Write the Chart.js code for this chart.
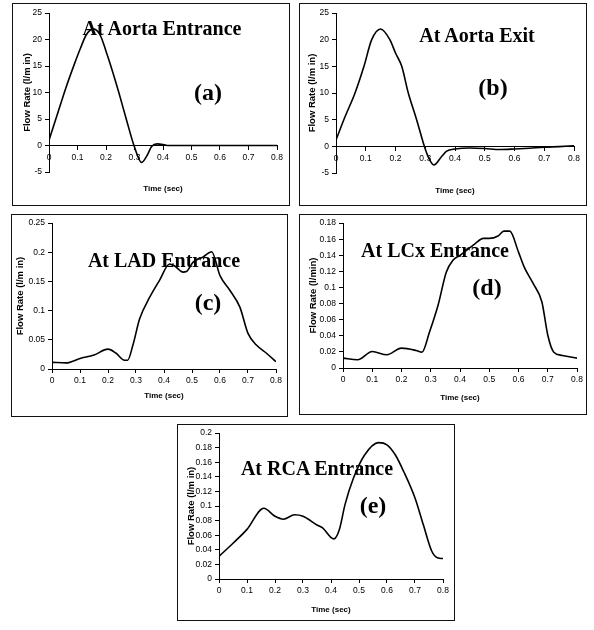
<!DOCTYPE html>
<html>
<head>
<meta charset="utf-8">
<script src="https://cdn.jsdelivr.net/npm/chart.js@4.4.1/dist/chart.umd.min.js"></script>
<style>
  body { margin: 0; background: #fff; }
  #page { position: relative; width: 594px; height: 630px; overflow: hidden; }
  .box { position: absolute; border: 1.5px solid #111; box-sizing: border-box; }
  canvas { position: absolute; }
  .lbl { position: absolute; transform: translate(-50%, -50%); white-space: nowrap;
         font-family: "Liberation Serif", "Times New Roman", serif; font-weight: bold; line-height: 1; color: #000; }
  .ttl { font-size: 20px; }
  .let { font-size: 24px; }
</style>
</head>
<body>
<div id="page">
  <div class="box" style="left:12px;top:3px;width:278px;height:203px"></div>
  <div class="box" style="left:299px;top:3px;width:288px;height:203px"></div>
  <div class="box" style="left:11px;top:214px;width:277px;height:203px"></div>
  <div class="box" style="left:299px;top:214px;width:288px;height:201px"></div>
  <div class="box" style="left:177px;top:424px;width:278px;height:197px"></div>

  <canvas id="ca" width="276" height="201" style="left:13px;top:4px"></canvas>
  <canvas id="cb" width="286" height="201" style="left:300px;top:4px"></canvas>
  <canvas id="cc" width="275" height="201" style="left:12px;top:215px"></canvas>
  <canvas id="cd" width="286" height="199" style="left:300px;top:215px"></canvas>
  <canvas id="ce" width="276" height="195" style="left:178px;top:425px"></canvas>

  <div class="lbl ttl" style="left:162px;top:28px">At Aorta Entrance</div>
  <div class="lbl let" style="left:208px;top:92px">(a)</div>
  <div class="lbl ttl" style="left:477px;top:35px">At Aorta Exit</div>
  <div class="lbl let" style="left:493px;top:87px">(b)</div>
  <div class="lbl ttl" style="left:164px;top:260px">At LAD Entrance</div>
  <div class="lbl let" style="left:208px;top:302px">(c)</div>
  <div class="lbl ttl" style="left:435px;top:250px">At LCx Entrance</div>
  <div class="lbl let" style="left:487px;top:287px">(d)</div>
  <div class="lbl ttl" style="left:317px;top:468px">At RCA Entrance</div>
  <div class="lbl let" style="left:373px;top:505px">(e)</div>
</div>
<script>
// (a) aorta entrance
const timeA = [0, 0.03, 0.06, 0.09, 0.11, 0.13, 0.155, 0.18, 0.2, 0.22, 0.245, 0.27, 0.3, 0.325, 0.345, 0.36, 0.38, 0.4, 0.42, 0.5, 0.6, 0.7, 0.8];
const flowA = [1, 6, 11, 15.5, 18.3, 20.8, 22, 20.8, 17.8, 14.5, 10, 5.2, -0.3, -3.2, -1.8, -0.2, 0.3, 0.2, 0, 0, 0, 0, 0];
// (b) aorta exit
const timeB = [0, 0.03, 0.064, 0.094, 0.12, 0.15, 0.181, 0.2, 0.221, 0.243, 0.271, 0.297, 0.31, 0.329, 0.355, 0.372, 0.4, 0.45, 0.5, 0.55, 0.6, 0.65, 0.7, 0.75, 0.8];
const flowB = [1.2, 5.5, 10, 15, 20, 22, 20, 17.5, 15, 10, 5, 0, -2, -3.5, -1.9, -0.9, -0.5, -0.3, -0.4, -0.6, -0.5, -0.35, -0.15, -0.05, 0.1];
// (c) LAD entrance
const timeC = [0, 0.05, 0.1, 0.15, 0.2, 0.229, 0.259, 0.27, 0.289, 0.313, 0.349, 0.384, 0.42, 0.437, 0.468, 0.48, 0.504, 0.54, 0.57, 0.6, 0.635, 0.671, 0.7, 0.73, 0.766, 0.8];
const flowC = [0.0114, 0.0105, 0.018, 0.024, 0.034, 0.027, 0.015, 0.015, 0.041, 0.086, 0.123, 0.152, 0.18, 0.177, 0.166, 0.167, 0.183, 0.192, 0.201, 0.16, 0.135, 0.106, 0.061, 0.041, 0.027, 0.0125];
// (d) LCx entrance
const timeD = [0, 0.05, 0.1, 0.15, 0.2, 0.25, 0.27, 0.296, 0.325, 0.353, 0.376, 0.4, 0.45, 0.48, 0.5, 0.53, 0.55, 0.57, 0.6, 0.62, 0.65, 0.68, 0.7, 0.72, 0.75, 0.8];
const flowD = [0.0123, 0.0103, 0.0205, 0.0164, 0.0247, 0.0218, 0.0197, 0.045, 0.078, 0.119, 0.134, 0.14, 0.154, 0.161, 0.161, 0.164, 0.17, 0.17, 0.144, 0.125, 0.105, 0.082, 0.041, 0.02, 0.0156, 0.0123];
// (e) RCA entrance
const timeE = [0, 0.05, 0.1, 0.16, 0.2, 0.23, 0.27, 0.3, 0.35, 0.37, 0.41, 0.43, 0.45, 0.48, 0.52, 0.57, 0.6, 0.63, 0.66, 0.7, 0.73, 0.76, 0.78, 0.8];
const flowE = [0.031, 0.049, 0.068, 0.097, 0.086, 0.082, 0.088, 0.086, 0.074, 0.07, 0.055, 0.068, 0.102, 0.138, 0.17, 0.187, 0.184, 0.17, 0.147, 0.111, 0.074, 0.038, 0.029, 0.028];

const timeTicks = { min: 0, max: 0.8, step: 0.1 };

const tickFont = { family: 'Liberation Sans, Arial, sans-serif', size: 8.5 };
const titleFont = { family: 'Liberation Sans, Arial, sans-serif', size: 8, weight: 'bold' };
const yTitleFont = { family: 'Liberation Sans, Arial, sans-serif', size: 9.5, weight: 'bold' };
const fmt = v => String(Number(v.toFixed(3)));

const makeChart = (id, times, flows, c) => {
  const pts = times.map((t, i) => ({ x: t, y: flows[i] }));
  const axisLook = {
    grid: { display: true, drawOnChartArea: false, drawTicks: true, tickLength: 4, color: '#000' },
    border: { display: true, color: '#000', width: 1 }
  };
  const scales = {
    x: {
      type: 'linear', min: timeTicks.min, max: timeTicks.max,
      position: c.zeroAxis ? { y: 0 } : 'bottom',
      ticks: { stepSize: timeTicks.step, font: tickFont, color: '#000', padding: 3, callback: fmt, maxRotation: 0, autoSkip: false },
      ...axisLook,
      title: { display: !c.zeroAxis, text: 'Time (sec)', font: titleFont, color: '#000', padding: { top: 0, bottom: c.tpad } },
      afterFit: s => { if (!c.zeroAxis) s.height = c.bottom; }
    },
    y: {
      type: 'linear', min: c.ymin, max: c.ymax,
      ticks: { stepSize: c.ystep, font: tickFont, color: '#000', padding: 3, callback: fmt },
      ...axisLook,
      title: { display: true, text: c.ytitle, font: yTitleFont, color: '#000', padding: { top: 0, bottom: 0 } },
      afterFit: s => { s.width = c.ywidth; }
    }
  };
  if (c.zeroAxis) {
    scales.x2 = {
      type: 'linear', position: 'bottom', min: 0, max: 1,
      ticks: { display: false }, grid: { display: false }, border: { display: false },
      title: { display: true, text: 'Time (sec)', font: titleFont, color: '#000', padding: { top: 0, bottom: c.tpad } },
      afterFit: s => { s.height = c.bottom; }
    };
  }
  return new Chart(document.getElementById(id), {
    type: 'line',
    data: {
      datasets: [{
        data: pts, borderColor: '#000', borderWidth: 1.6, pointRadius: 0,
        tension: 0.4, cubicInterpolationMode: 'monotone', fill: false
      }]
    },
    options: {
      responsive: false, animation: false, devicePixelRatio: 1,
      layout: { padding: { left: c.left, top: c.top, right: c.right, bottom: 0 } },
      plugins: { legend: { display: false }, tooltip: { enabled: false } },
      scales: scales
    }
  });
};

makeChart('ca', timeA, flowA, { zeroAxis: true, ymin: -5, ymax: 25, ystep: 5, ytitle: 'Flow Rate (l/m in)',
  left: 9, ywidth: 27, top: 9, right: 12, bottom: 33, tpad: 11 });
makeChart('cb', timeB, flowB, { zeroAxis: true, ymin: -5, ymax: 25, ystep: 5, ytitle: 'Flow Rate (l/m in)',
  left: 7, ywidth: 29, top: 9, right: 12, bottom: 32, tpad: 9 });
makeChart('cc', timeC, flowC, { zeroAxis: false, ymin: 0, ymax: 0.25, ystep: 0.05, ytitle: 'Flow Rate (l/m in)',
  left: 3, ywidth: 37, top: 7, right: 11, bottom: 47, tpad: 15 });
makeChart('cd', timeD, flowD, { zeroAxis: false, ymin: 0, ymax: 0.18, ystep: 0.02, ytitle: 'Flow Rate (l/min)',
  left: 8, ywidth: 35, top: 7, right: 9, bottom: 46, tpad: 11 });
makeChart('ce', timeE, flowE, { zeroAxis: false, ymin: 0, ymax: 0.2, ystep: 0.02, ytitle: 'Flow Rate (l/m in)',
  left: 8, ywidth: 33, top: 8, right: 11, bottom: 41, tpad: 5 });
</script>
</body>
</html>
